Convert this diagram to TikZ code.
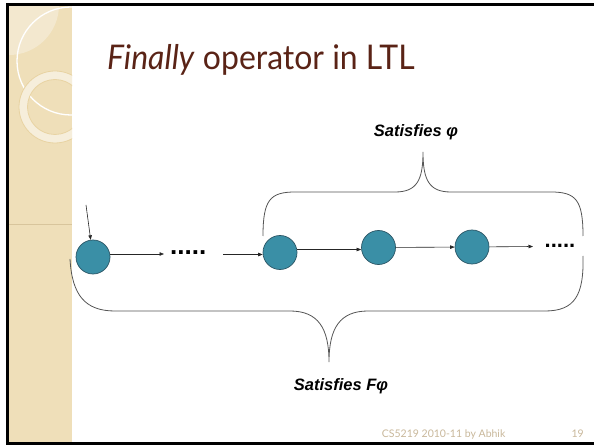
\documentclass[tikz,border=0pt]{standalone}
\usepackage{fontspec}
\setmainfont{Lato}
\newfontfamily\arialfont{Liberation Sans}
\usetikzlibrary{arrows.meta}

\definecolor{panel}{HTML}{EFDFB9}
\definecolor{panellight}{HTML}{F3E8CF}
\definecolor{ringfill}{HTML}{F6EEDB}
\definecolor{ringline}{HTML}{E8D3A2}
\definecolor{rule}{HTML}{D8C59C}
\definecolor{titlebrown}{HTML}{5A2316}
\definecolor{footcol}{HTML}{C9B89B}
\definecolor{statefill}{HTML}{3A8FA6}
\definecolor{stateline}{HTML}{2A5565}
\definecolor{bracecol}{HTML}{555555}

\tikzset{
  state/.style={circle, draw=stateline, line width=0.7pt, fill=statefill,
    minimum size=34pt, inner sep=0pt},
  arr/.style={draw=black!85, line width=0.6pt, -{Triangle[length=4.5pt,width=3.5pt]}},
  bracepath/.style={draw=bracecol, line width=0.8pt},
  lbl/.style={inner sep=0pt, font=\arialfont\bfseries\itshape\fontsize{16.5}{20}\selectfont},
  dots/.style={inner sep=0pt, anchor=base west, font=\arialfont\bfseries},
  foot/.style={inner sep=0pt, text=footcol, font=\fontsize{10.5}{12}\selectfont}
}

\begin{document}
\begin{tikzpicture}[x=1pt, y=-1pt]
\useasboundingbox (0,0) rectangle (594,446);
\fill[white] (0,0) rectangle (594,446);

% decorated side strip
\begin{scope}
  \clip (8,5) rectangle (72,443);
  \fill[panel] (8,5) rectangle (72,443);
  \fill[panellight] (9,5) circle (50);
  \draw[white, line width=1.3pt] (71,61) circle (54);
  \fill[ringfill, even odd rule] (55,107) circle (36) (55,107) circle (27.5);
  \draw[ringline, line width=0.8pt] (55,107) circle (36) (55,107) circle (27.5);
  \draw[rule, line width=0.6pt] (8,224) -- (72,224);
\end{scope}

% frame
\draw[black, line width=2.4pt] (594,4.5) -- (7.5,4.5) -- (7.5,443.5) -- (594,443.5);

% title
\node[anchor=base west, inner sep=0pt, text=titlebrown,
      font=\fontsize{34}{40}\selectfont] (title) at (107,70)
      {\scalebox{0.94}[1]{\textit{Finally} operator in LTL}};

% states
\node[state] (s0) at (93,257) {};
\node[state] (s1) at (280,252.5) {};
\node[state] (s2) at (378.5,247.5) {};
\node[state] (s3) at (472,247) {};

% transitions
\coordinate (init) at (86,205);
\coordinate (d1) at (164,254);
\coordinate (c2) at (223,254.5);
\coordinate (m12) at (330,249.5);
\coordinate (d2) at (533,246.5);
\draw[arr] (init) -- (s0);
\draw[arr] (s0.east |- d1) -- (d1);
\node[dots, font=\arialfont\bfseries\fontsize{26}{30}\selectfont] (dots1) at (170,254.5) {.....};
\draw[arr] (c2) -- (s1.west |- c2);
\draw[arr] (s1.east |- m12) -- (s2.west |- m12);
\draw[arr] (s2) -- (s3);
\draw[arr] (s3) -- (d2);
\node[dots, font=\arialfont\bfseries\fontsize{22}{26}\selectfont] (dots2) at (544.5,247.5) {.....};

% upper brace
\draw[bracepath] (263,236) .. controls (263,200) and (270,192) .. (295,192)
  -- (395,192) .. controls (417,192) and (423,180) .. (423,152)
  .. controls (423,180) and (429,192) .. (451,192)
  -- (551,192) .. controls (576,192) and (583,200) .. (583,236);

% lower brace
\draw[bracepath] (70,259) .. controls (72,295) and (85,311) .. (115,311)
  -- (290,311) .. controls (318,311) and (329,328) .. (329,362)
  .. controls (329,328) and (340,311) .. (368,311)
  -- (545,311) .. controls (575,311) and (584,295) .. (583,256);

% labels
\node[lbl] (lphi) at (416,132) {Satisfies φ};
\node[lbl] (lfphi) at (341,386) {Satisfies Fφ};

% footer
\node[foot, anchor=base west] (ftxt) at (381.7,437) {CS5219 2010-11 by Abhik};
\node[foot, anchor=base east] (fnum) at (584,437) {19};
\end{tikzpicture}
\end{document}
